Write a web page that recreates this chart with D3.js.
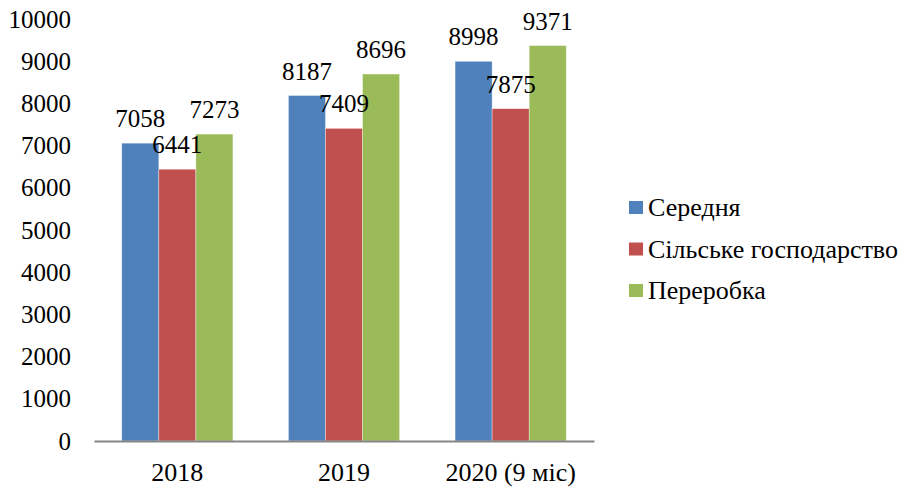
<!DOCTYPE html>
<html>
<head>
<meta charset="utf-8">
<script src="https://cdn.jsdelivr.net/npm/d3@7"></script>
<style>
  body { margin: 0; background: #fff; }
</style>
</head>
<body>
<svg id="chart" width="902" height="489"></svg>
<script>
const categories = ['2018', '2019', '2020 (9 міс)'];
const seriesNames = ['Середня', 'Сільське господарство', 'Переробка'];
const seriesColors = ['#4F81BD', '#C0504D', '#9BBB59'];
const averageValues = [7058, 8187, 8998];
const agricultureValues = [6441, 7409, 7875];
const processingValues = [7273, 8696, 9371];
const yTicks = [0, 1000, 2000, 3000, 4000, 5000, 6000, 7000, 8000, 9000, 10000];

const seriesValues = [averageValues, agricultureValues, processingValues];
const serif = 'Liberation Serif';

const svg = d3.select('#chart');

const x = d3.scaleBand()
  .domain(categories)
  .range([94, 594])
  .paddingInner(0.333)
  .paddingOuter(0.1667);

const xInner = d3.scaleBand()
  .domain(seriesNames)
  .range([0, x.bandwidth()]);

const y = d3.scaleLinear()
  .domain([0, 10000])
  .range([441, 19]);

// y axis labels only, Excel style (no axis line, no ticks)
const yAxis = svg.append('g')
  .attr('transform', 'translate(71,0)')
  .call(d3.axisLeft(y).tickValues(yTicks).tickFormat(d3.format('d')).tickSize(0).tickPadding(0))
  .attr('font-family', serif)
  .attr('font-size', 25);
yAxis.select('.domain').remove();
yAxis.selectAll('text').attr('fill', '#000');

// bars
const groups = svg.append('g')
  .selectAll('g')
  .data(categories)
  .join('g')
  .attr('transform', d => `translate(${x(d)},0)`);

const cells = (c, i) => seriesNames.map((s, j) => ({ s, j, v: seriesValues[j][i] }));

groups.selectAll('rect')
  .data(cells)
  .join('rect')
  .attr('x', d => xInner(d.s))
  .attr('y', d => y(d.v))
  .attr('width', xInner.bandwidth())
  .attr('height', d => y(0) - y(d.v))
  .attr('fill', d => seriesColors[d.j])
  .attr('stroke', 'rgba(255,255,255,0.6)')
  .attr('stroke-width', 0.6);

groups.selectAll('text.value')
  .data(cells)
  .join('text')
  .attr('class', 'value')
  .attr('x', d => xInner(d.s) + xInner.bandwidth() / 2)
  .attr('y', d => y(d.v) - 16)
  .attr('text-anchor', 'middle')
  .attr('font-family', serif)
  .attr('font-size', 25)
  .text(d => d.v);

// x axis
const xAxis = svg.append('g')
  .attr('transform', `translate(0,${y(0)})`)
  .call(d3.axisBottom(x).tickSize(0).tickPadding(22))
  .attr('font-family', serif)
  .attr('font-size', 26);
xAxis.select('.domain')
  .attr('stroke', '#868686')
  .attr('stroke-width', 2);
xAxis.selectAll('text').attr('fill', '#000');

// legend
const legend = svg.append('g')
  .selectAll('g')
  .data(seriesNames)
  .join('g')
  .attr('transform', (d, i) => `translate(629,${201 + i * 41.5})`);

legend.append('rect')
  .attr('width', 14)
  .attr('height', 13)
  .attr('fill', (d, i) => seriesColors[i]);

legend.append('text')
  .attr('x', 19)
  .attr('y', 15)
  .attr('font-family', serif)
  .attr('font-size', 26)
  .text(d => d);
</script>
</body>
</html>
